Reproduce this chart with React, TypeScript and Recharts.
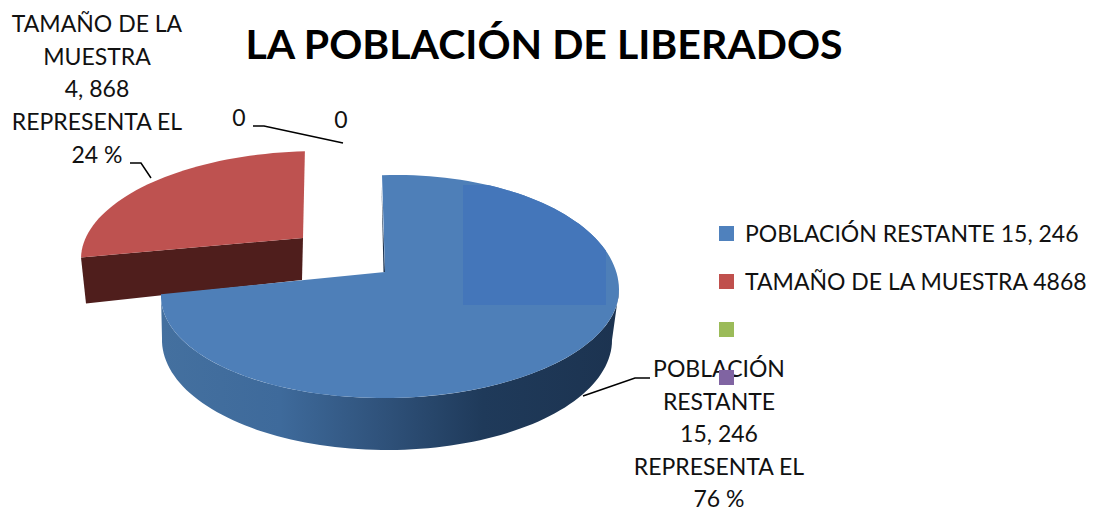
import { Legend, Pie, PieChart } from "recharts"

const categories = ["POBLACIÓN RESTANTE 15, 246", "TAMAÑO DE LA MUESTRA 4868", "", ""]
const values = [15246, 4868, 0, 0]
const colors = ["#4F81BD", "#C0504D", "#9BBB59", "#8064A2"]
const labelTexts = [
  ["POBLACIÓN", "RESTANTE", "15, 246", "REPRESENTA EL", "76 %"],
  ["TAMAÑO DE LA", "MUESTRA", "4, 868", "REPRESENTA EL", "24 %"],
  ["0"],
  ["0"],
]

const pieData = categories.map((name, i) => ({ name, value: values[i], fill: colors[i] }))

const FONT = "Lato, sans-serif"

// how each slice sits in the fake 3D view
const blueTop = { x: 390, y: 293, rx: 229, ryBack: 118, ryFront: 105, shear: 0.013, apexX: 385, apexY: 272 }
const blueBottom = { x: 387, y: 340, rx: 225, ryBack: 110, ryFront: 110, shear: 0 }
const redTop = { x: 313, y: 256, rx: 232, ryBack: 105, ryFront: 105, shear: 0.013, apexX: 303, apexY: 238 }

const labelLayout = [
  { x: 719, y: 377, step: 32.5, line: "583,396 635,378 650,378" },
  { x: 97, y: 32, step: 32.7, line: "130,163 141,163 151,178" },
  { x: 239, y: 126, step: 0, line: "253,126 264,126 343,143" },
  { x: 341, y: 128, step: 0, line: "" },
]

type Geo = { x: number; y: number; rx: number; ryBack: number; ryFront: number; shear: number }

const point = (g: Geo, deg: number): [number, number] => {
  const a = (deg * Math.PI) / 180
  const c = Math.cos(a)
  const x = g.x + g.rx * Math.sin(a)
  const y = g.y - (c >= 0 ? g.ryBack : g.ryFront) * c - g.shear * (x - g.x)
  return [x, y]
}

const arc = (g: Geo, from: number, to: number) => {
  const n = Math.max(2, Math.ceil(Math.abs(to - from) / 2))
  const out: [number, number][] = []
  for (let i = 0; i <= n; i++) out.push(point(g, from + ((to - from) * i) / n))
  return out
}

const toPath = (pts: [number, number][]) =>
  "M" + pts.map((p) => `${p[0].toFixed(1)},${p[1].toFixed(1)}`).join("L") + "Z"

function SliceShape(props: any) {
  if (!props.value) return null
  const from = 90 - props.startAngle
  const to = 90 - props.endAngle
  if (props.payload.name === categories[1]) {
    const rim = arc(redTop, from, to)
    const apex: [number, number] = [redTop.apexX, redTop.apexY]
    const tip = rim[0]
    const wall: [number, number][] = [tip, apex, [apex[0] - 1, apex[1] + 42], [tip[0] + 5, tip[1] + 46]]
    return (
      <g>
        <path d={toPath(wall)} fill="#4F1E1C" />
        <path d={toPath([apex, ...rim])} fill="#BE5250" />
      </g>
    )
  }
  const rim = arc(blueTop, from, to)
  const apex: [number, number] = [blueTop.apexX, blueTop.apexY]
  const face = toPath([apex, ...rim])
  const wall = [...arc(blueTop, 90, to), ...arc(blueBottom, to, 90)]
  return (
    <g>
      <path d={toPath(wall)} fill="url(#blueWall)" />
      <path d={toPath([[rim[0][0] - 0.5, rim[0][1] + 10], [apex[0] - 1.5, apex[1]], [apex[0], apex[1]]])} fill="#1C3350" />
      <path d={face} fill="#4E7FB8" />
      <clipPath id="blueFace">
        <path d={face} />
      </clipPath>
      <rect x={463} y={185} width={143} height={120} fill="#4476BA" clipPath="url(#blueFace)" />
    </g>
  )
}

function SliceLabel(props: any) {
  const layout = labelLayout[props.index]
  const lines = labelTexts[props.index]
  return (
    <g>
      {layout.line && <polyline points={layout.line} fill="none" stroke="#000" strokeWidth={1.5} />}
      <text textAnchor="middle" fontFamily={FONT} fontSize={23} fill="#111">
        {lines.map((t, i) => (
          <tspan key={i} x={layout.x} y={layout.y + i * layout.step}>
            {t}
          </tspan>
        ))}
      </text>
    </g>
  )
}

function LegendList({ payload }: any) {
  // both pies report their items, only the second one is meant for the legend
  const items = (payload || []).filter((item: any) => item.type !== "none")
  return (
    <div>
      {items.map((item: any, i: number) => (
        <div key={i} style={{ display: "flex", alignItems: "center", height: 48, fontFamily: FONT, fontSize: 23, color: "#111" }}>
          <span style={{ width: 15, height: 15, background: item.color, marginRight: 11, flexShrink: 0 }} />
          <span style={{ whiteSpace: "nowrap" }}>{item.value}</span>
        </div>
      ))}
    </div>
  )
}

export default function App() {
  return (
    <div style={{ position: "absolute", left: 0, top: 0 }}>
      <PieChart width={1096} height={510} margin={{ top: 0, right: 0, bottom: 0, left: 0 }}>
        <defs>
          <linearGradient id="blueWall" gradientUnits="userSpaceOnUse" x1={161} y1={0} x2={620} y2={0}>
            <stop offset="0" stopColor="#44709F" />
            <stop offset="0.26" stopColor="#3E6A9B" />
            <stop offset="0.5" stopColor="#2E5078" />
            <stop offset="0.7" stopColor="#1F3A5A" />
            <stop offset="1" stopColor="#1C3350" />
          </linearGradient>
        </defs>
        <text x={544} y={59} textAnchor="middle" fontFamily={FONT} fontWeight={700} fontSize={41} fill="#000">
          LA POBLACIÓN DE LIBERADOS
        </text>
        {/* red has to go underneath the blue slice, so it gets its own pass */}
        <Pie
          data={pieData}
          dataKey="value"
          nameKey="name"
          cx={390}
          cy={293}
          outerRadius={229}
          startAngle={92}
          endAngle={-268}
          stroke="none"
          legendType="none"
          isAnimationActive={false}
          shape={(p: any) => (p.payload.name === categories[1] ? <SliceShape {...p} /> : <g />)}
        />
        <Pie
          data={pieData}
          dataKey="value"
          nameKey="name"
          cx={390}
          cy={293}
          outerRadius={229}
          startAngle={92}
          endAngle={-268}
          stroke="none"
          legendType="rect"
          isAnimationActive={false}
          shape={(p: any) => (p.payload.name === categories[0] ? <SliceShape {...p} /> : <g />)}
          label={SliceLabel}
          labelLine={false}
        />
        <Legend
          layout="vertical"
          align="left"
          verticalAlign="top"
          itemSorter={null}
          wrapperStyle={{ left: 719, top: 209, width: 377 }}
          content={LegendList}
        />
      </PieChart>
    </div>
  )
}
